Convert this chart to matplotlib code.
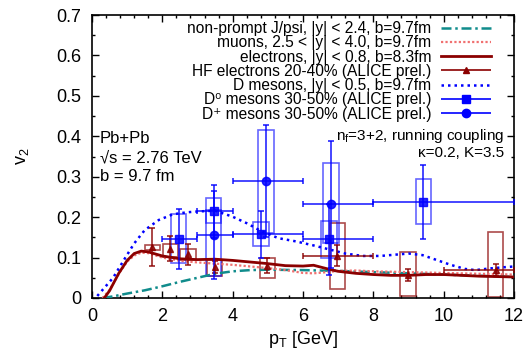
import numpy as np
import matplotlib
matplotlib.use("Agg")
import matplotlib.pyplot as plt
from matplotlib.container import ErrorbarContainer
from matplotlib.legend_handler import HandlerErrorbar

plt.rcParams['font.family'] = ['Liberation Sans', 'DejaVu Sans']
plt.rcParams['mathtext.fontset'] = 'custom'
plt.rcParams['mathtext.rm'] = 'Liberation Sans'
plt.rcParams['mathtext.it'] = 'Liberation Sans:italic'
plt.rcParams['mathtext.default'] = 'regular'

# ---- theory curves ----
jpsi_pt = [0.3, 0.6, 1.0, 1.5, 2.0, 2.5, 3.0, 3.5, 4.0, 4.5, 5.0, 6.0, 7.0, 8.0, 9.0, 10.0, 11.0, 12.0]
jpsi_v2 = [0.0, 0.004, 0.011, 0.019, 0.029, 0.040, 0.050, 0.060, 0.066, 0.069, 0.070, 0.069, 0.067, 0.064, 0.061, 0.058, 0.055, 0.052]

mu_pt = [0.3, 0.5, 0.8, 1.0, 1.2, 1.4, 1.6, 2.0, 2.5, 3.0, 3.5, 4.0, 4.5, 5.0, 5.5, 6.0, 6.3, 6.7, 7.0, 7.5, 8.0, 9.0, 10.0, 11.0, 12.0]
mu_v2 = [0.0, 0.02, 0.065, 0.09, 0.105, 0.112, 0.111, 0.100, 0.092, 0.088, 0.085, 0.082, 0.078, 0.074, 0.069, 0.062, 0.061, 0.064, 0.067, 0.068, 0.066, 0.064, 0.062, 0.060, 0.058]

el_pt = [0.35, 0.5, 0.76, 1.0, 1.2, 1.4, 1.6, 2.0, 2.5, 3.0, 3.5, 4.0, 4.5, 5.0, 5.5, 6.0, 6.3, 6.7, 7.0, 7.5, 8.0, 8.5, 9.0, 9.5, 10.0, 10.5, 11.0, 11.5, 12.0]
el_v2 = [0.0, 0.018, 0.061, 0.093, 0.110, 0.116, 0.114, 0.104, 0.097, 0.095, 0.096, 0.093, 0.089, 0.085, 0.080, 0.079, 0.081, 0.072, 0.066, 0.061, 0.058, 0.056, 0.056, 0.058, 0.058, 0.056, 0.054, 0.053, 0.052]

d_pt = [0.15, 0.3, 0.6, 0.95, 1.2, 1.5, 1.9, 2.3, 2.7, 3.0, 3.5, 4.0, 4.4, 4.8, 5.3, 5.8, 6.3, 6.8, 7.2, 7.7, 8.2, 8.6, 9.0, 9.4, 9.8, 10.2, 10.6, 10.9, 11.3, 11.7, 12.0]
d_v2 = [0.005, 0.02, 0.05, 0.10, 0.135, 0.168, 0.193, 0.207, 0.212, 0.214, 0.216, 0.201, 0.185, 0.166, 0.148, 0.140, 0.130, 0.119, 0.110, 0.104, 0.104, 0.107, 0.110, 0.106, 0.094, 0.082, 0.072, 0.069, 0.073, 0.076, 0.078]

# ---- HF electrons (ALICE prel.) ----
hf_pt = np.array([1.72, 2.23, 2.73, 3.49, 4.99, 6.98, 8.98, 11.48])
hf_v2 = np.array([0.126, 0.122, 0.108, 0.076, 0.080, 0.105, 0.057, 0.069])
hf_err = np.array([0.046, 0.031, 0.026, 0.015, 0.018, 0.026, 0.014, 0.015])
hf_xlo = np.array([np.nan, np.nan, np.nan, np.nan, np.nan, 6.0, np.nan, 10.0])
hf_xhi = np.array([np.nan, np.nan, np.nan, np.nan, np.nan, 8.0, np.nan, 12.0])
hf_syslo = np.array([0.118, 0.101, 0.094, 0.054, 0.049, 0.022, 0.005, 0.003])
hf_syshi = np.array([0.130, 0.134, 0.122, 0.094, 0.098, 0.185, 0.113, 0.164])

# ---- D0 mesons ----
d0_pt = np.array([2.46, 3.46, 4.80, 6.74, 9.42])
d0_v2 = np.array([0.146, 0.214, 0.158, 0.145, 0.237])
d0_err = np.array([0.074, 0.066, 0.058, 0.088, 0.092])
d0_xlo = np.array([2.0, 3.0, 4.0, 6.0, 8.0])
d0_xhi = np.array([3.0, 4.0, 6.0, 8.0, 12.0])
d0_syslo = np.array([0.087, 0.185, 0.129, 0.098, 0.183])
d0_syshi = np.array([0.207, 0.247, 0.189, 0.191, 0.294])

# ---- D+ mesons ----
dp_pt = np.array([3.46, 4.95, 6.80])
dp_v2 = np.array([0.156, 0.290, 0.232])
dp_err = np.array([0.109, 0.138, 0.157])
dp_xlo = np.array([3.0, 4.0, 6.0])
dp_xhi = np.array([4.0, 6.0, 8.0])
dp_syslo = np.array([0.055, 0.162, 0.135])
dp_syshi = np.array([0.218, 0.416, 0.333])

box_w = 0.44

DRED = '#8b0000'
BLUE = '#0000ff'
PINK = '#f07070'
TEAL = '#108c8c'

fig = plt.figure(figsize=(5.26, 3.54), dpi=100)
ax = fig.add_axes([0.1749, 0.1582, 0.8023, 0.7994])

# systematic boxes
ax.bar(hf_pt, hf_syshi - hf_syslo, bottom=hf_syslo, width=box_w, fill=False,
       edgecolor=DRED, alpha=0.7, linewidth=1.2, zorder=2)
ax.bar(d0_pt, d0_syshi - d0_syslo, bottom=d0_syslo, width=box_w, fill=False,
       edgecolor=BLUE, alpha=0.6, linewidth=1.2, zorder=2)
ax.bar(dp_pt, dp_syshi - dp_syslo, bottom=dp_syslo, width=box_w, fill=False,
       edgecolor=BLUE, alpha=0.6, linewidth=1.2, zorder=2)

# curves
l_jpsi, = ax.plot(jpsi_pt, jpsi_v2, color=TEAL, lw=1.8, ls=(0, (4, 1.5, 1, 1.5)), zorder=3)
l_mu, = ax.plot(mu_pt, mu_v2, color=PINK, lw=1.6, ls=(0, (1, 1)), zorder=3)
l_el, = ax.plot(el_pt, el_v2, color=DRED, lw=2.0, zorder=3)
l_d, = ax.plot(d_pt, d_v2, color=BLUE, lw=1.8, ls=(0, (1, 1.6)), zorder=3)

# data points
e_hf = ax.errorbar(hf_pt, hf_v2, xerr=[hf_pt - hf_xlo, hf_xhi - hf_pt], yerr=hf_err,
                   fmt='^', color=DRED, ms=5, capsize=2.5, elinewidth=1.2, capthick=1.2,
                   alpha=0.85, zorder=4)
e_d0 = ax.errorbar(d0_pt, d0_v2, xerr=[d0_pt - d0_xlo, d0_xhi - d0_pt], yerr=d0_err,
                   fmt='s', color=BLUE, ms=6, capsize=2.5, elinewidth=1.2, capthick=1.2,
                   alpha=0.85, zorder=4)
e_dp = ax.errorbar(dp_pt, dp_v2, xerr=[dp_pt - dp_xlo, dp_xhi - dp_pt], yerr=dp_err,
                   fmt='o', color=BLUE, ms=6, capsize=2.5, elinewidth=1.2, capthick=1.2,
                   alpha=0.85, zorder=4)

# legend proxies (horizontal bar only)
p_hf = ax.errorbar([], [], xerr=[], fmt='^', color=DRED, ms=5, capsize=2.5, elinewidth=1.2)
p_d0 = ax.errorbar([], [], xerr=[], fmt='s', color=BLUE, ms=6, capsize=2.5, elinewidth=1.2)
p_dp = ax.errorbar([], [], xerr=[], fmt='o', color=BLUE, ms=6, capsize=2.5, elinewidth=1.2)

handles = [l_jpsi, l_mu, l_el, p_hf, l_d, p_d0, p_dp]
labels = ['non-prompt J/psi, |y| < 2.4, b=9.7fm',
          'muons, 2.5 < |y| < 4.0, b=9.7fm',
          'electrons, |y| < 0.8, b=8.3fm',
          'HF electrons 20-40% (ALICE prel.)',
          'D mesons, |y| < 0.5, b=9.7fm',
          'D\u2070 mesons 30-50% (ALICE prel.)',
          'D\u207a mesons 30-50% (ALICE prel.)']
leg = ax.legend(handles, labels, loc='upper right', bbox_to_anchor=(0.945, 0.978),
                frameon=False, markerfirst=False, fontsize=11.2, handlelength=3.2,
                handletextpad=0.63, labelspacing=-0.05, borderpad=0, borderaxespad=0,
                numpoints=1,
                handler_map={ErrorbarContainer: HandlerErrorbar(xerr_size=1.6)})

# annotations
ax.text(0.019, 0.548, 'Pb+Pb', transform=ax.transAxes, fontsize=12, va='baseline')
ax.text(0.019, 0.480, '\u221as = 2.76 TeV', transform=ax.transAxes, fontsize=12, va='baseline')
ax.text(0.019, 0.414, 'b = 9.7 fm', transform=ax.transAxes, fontsize=12, va='baseline')
ax.text(0.976, 0.560, 'n$_f$=3+2, running coupling', transform=ax.transAxes, fontsize=11,
        va='baseline', ha='right')
ax.text(0.976, 0.500, '\u03ba=0.2, K=3.5', transform=ax.transAxes, fontsize=11,
        va='baseline', ha='right')

ax.set_xlim(0, 12)
ax.set_ylim(0, 0.7)
ax.set_xticks(np.arange(0, 12.1, 2))
ax.set_xticks(np.arange(0, 12.01, 0.4), minor=True)
ax.set_yticks(np.arange(0, 0.71, 0.1))
ax.set_yticks(np.arange(0, 0.701, 0.05), minor=True)
ax.set_xticklabels(['0', '2', '4', '6', '8', '10', '12'])
ax.set_yticklabels(['0', '0.1', '0.2', '0.3', '0.4', '0.5', '0.6', '0.7'])
ax.tick_params(which='both', direction='in', top=True, right=True, labelsize=13, width=1)
ax.tick_params(axis='y', which='major', length=5, pad=8)
ax.tick_params(axis='x', which='major', length=5, pad=7)
ax.tick_params(which='minor', length=2.5)
for s in ax.spines.values():
    s.set_linewidth(1.2)

ax.set_xlabel('p$_T$ [GeV]', fontsize=13, labelpad=3)
ax.set_ylabel('v$_2$', fontsize=13, labelpad=18)

fig.savefig('out.png', dpi=100)
